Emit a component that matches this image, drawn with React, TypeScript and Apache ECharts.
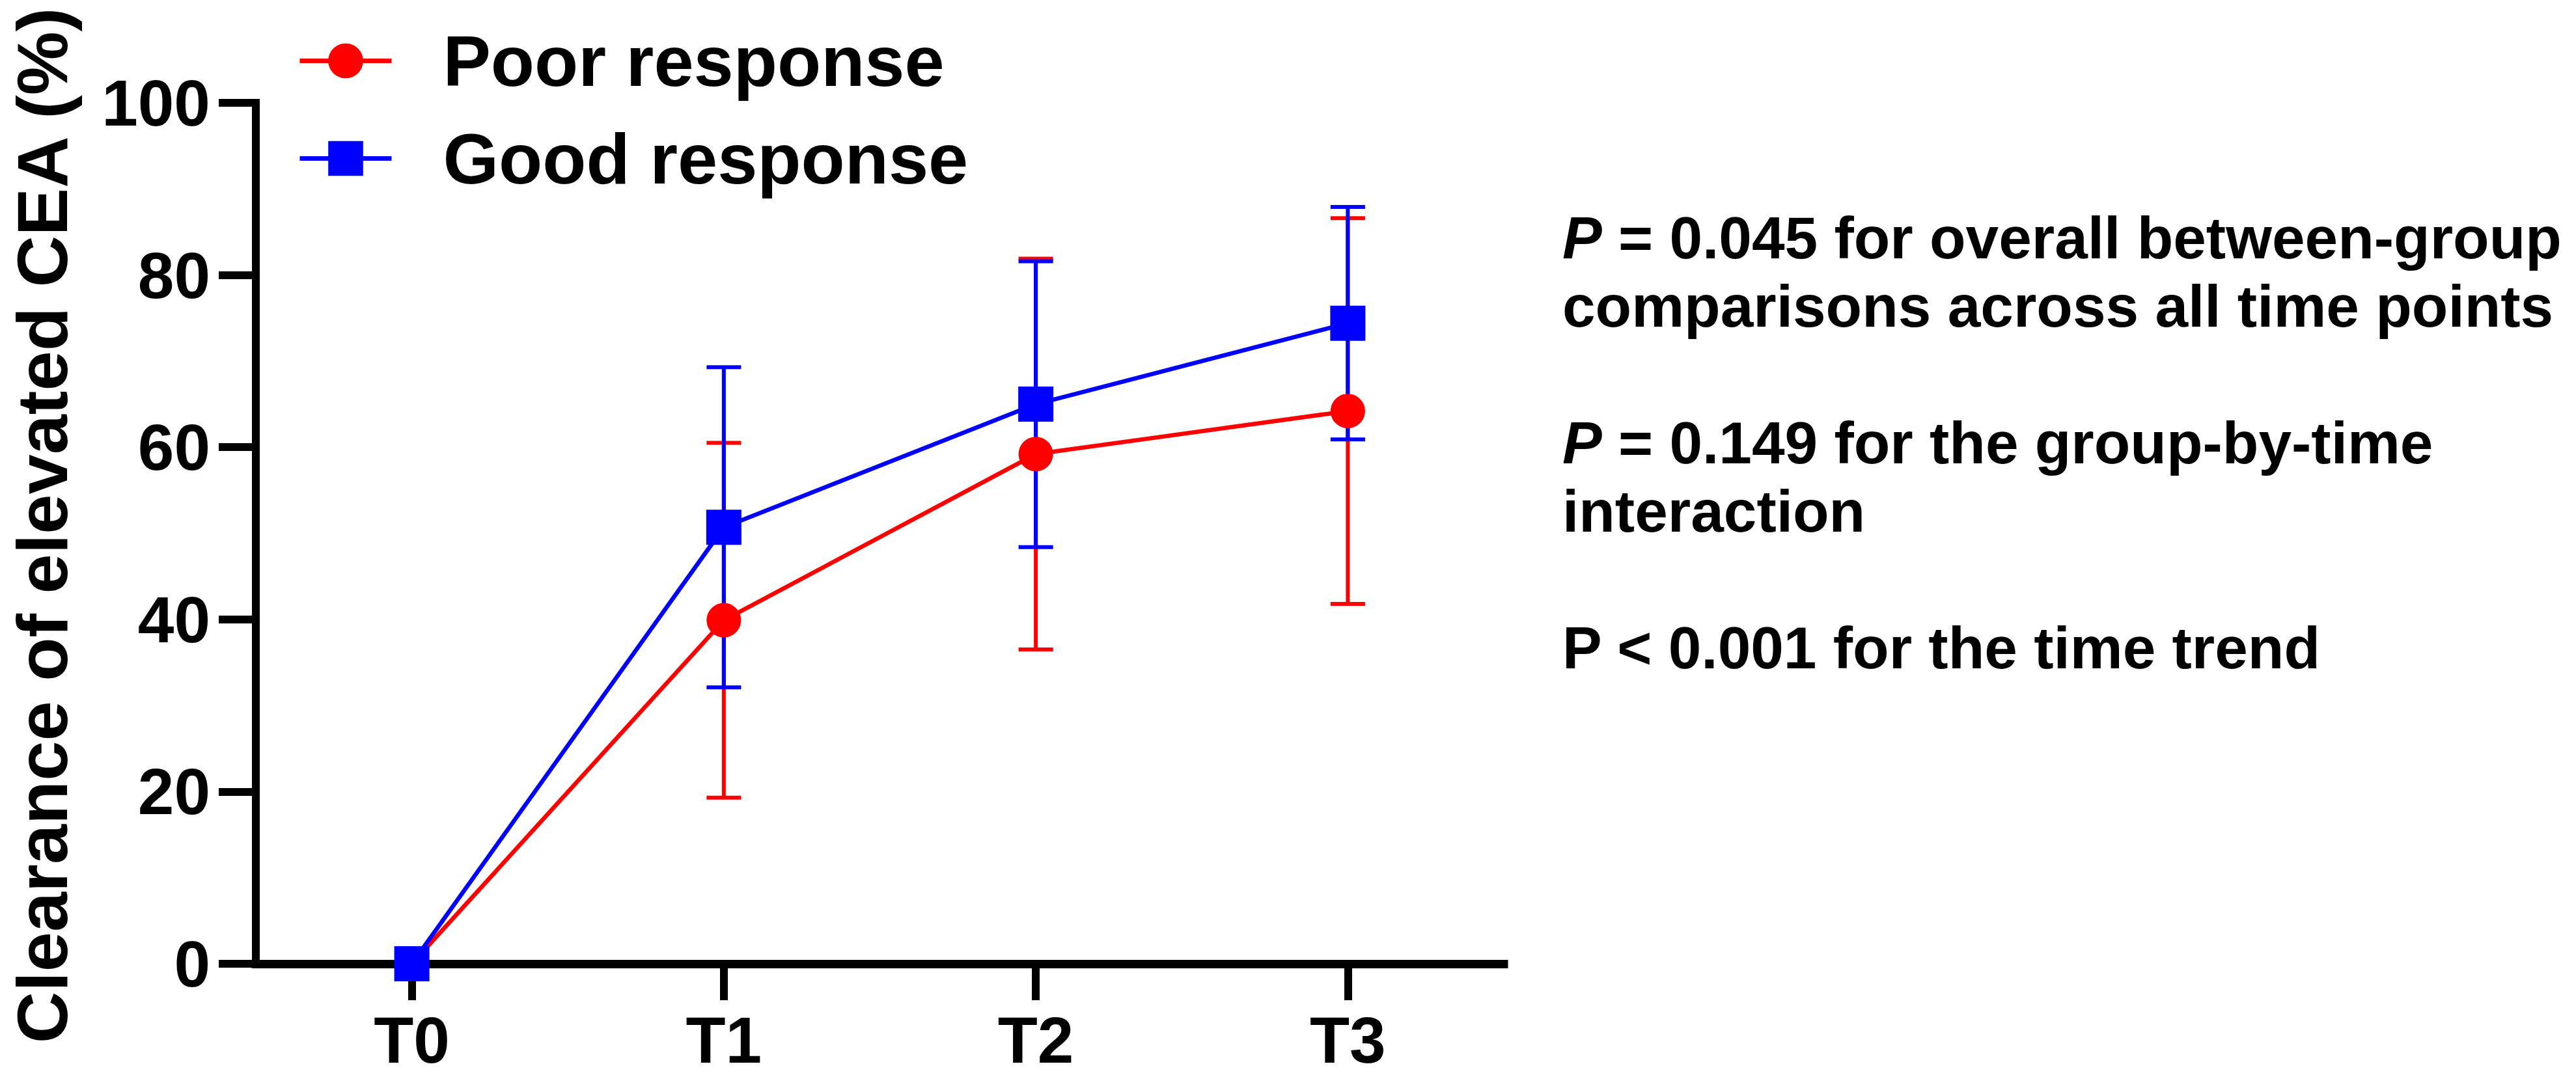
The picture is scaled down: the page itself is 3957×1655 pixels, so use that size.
import React, { useEffect, useRef } from 'react';
import * as echarts from 'echarts';

const W = 3957;
const H = 1655;
const FONT = "'Liberation Sans', Arial, Helvetica, sans-serif";
const RED = '#FF0000';
const BLUE = '#0000FF';

// ---- data ----
const categories = ['T0', 'T1', 'T2', 'T3'];
const poorMean = [0, 39.9, 59.2, 64.2];
const poorSD = [0, 20.6, 22.7, 22.4];
const goodMean = [0, 50.7, 65.0, 74.4];
const goodSD = [0, 18.6, 16.6, 13.5];
const yMin = 0;
const yMax = 100;
const yInterval = 20;
const seriesNames = ['Poor response', 'Good response'];
const yTitle = 'Clearance of elevated CEA (%)';
const notes = [
  ['{i|P} = 0.045 for overall between-group', 'comparisons across all time points'],
  ['{i|P} = 0.149 for the group-by-time', 'interaction'],
  ['P < 0.001 for the time trend'],
];

const errData = (mean: number[], sd: number[]) =>
  mean.map((m, i) => [i, m - sd[i], m + sd[i]]);

const makeErrRender = (color: string) => (params: any, api: any) => {
  const lo = api.value(1);
  const hi = api.value(2);
  if (!(hi - lo > 0)) return null;
  const x = api.value(0);
  const top = api.coord([x, hi]);
  const bot = api.coord([x, lo]);
  const hw = 26.5;
  const st = { stroke: color, lineWidth: 6 };
  return {
    type: 'group',
    children: [
      { type: 'line', shape: { x1: top[0], y1: top[1], x2: bot[0], y2: bot[1] }, style: st },
      { type: 'line', shape: { x1: top[0] - hw, y1: top[1], x2: top[0] + hw, y2: top[1] }, style: st },
      { type: 'line', shape: { x1: bot[0] - hw, y1: bot[1], x2: bot[0] + hw, y2: bot[1] }, style: st },
    ],
  };
};

function buildNotes() {
  const fs = 91;
  const lh = 105;
  const firstBaseline = 397;
  const els: any[] = [];
  let row = 0;
  notes.forEach((para) => {
    para.forEach((line) => {
      const baseline = firstBaseline + row * lh;
      els.push({
        type: 'text',
        x: 2400,
        y: baseline - 0.3465 * fs,
        silent: true,
        style: {
          text: line,
          fontSize: fs,
          fontWeight: 'bold',
          fontFamily: FONT,
          fill: '#000',
          align: 'left',
          verticalAlign: 'middle',
          lineHeight: lh,
          rich: {
            i: {
              fontStyle: 'italic',
              fontWeight: 'bold',
              fontSize: fs,
              fontFamily: FONT,
              fill: '#000',
              lineHeight: lh,
            },
          },
        },
      });
      row += 1;
    });
    row += 1;
  });
  return els;
}

export default function App() {
  const ref = useRef<HTMLDivElement>(null);
  useEffect(() => {
    document.body.style.margin = '0';
    const chart = echarts.init(ref.current as HTMLDivElement, null, {
      renderer: 'svg',
      width: W,
      height: H,
    });
    const axisLabelStyle = {
      fontSize: 100,
      fontWeight: 'bold',
      fontFamily: FONT,
      color: '#000',
    };
    const option: any = {
      animation: false,
      backgroundColor: '#fff',
      color: [RED, BLUE],
      grid: {
        left: 393,
        right: W - 2310,
        top: 158,
        bottom: H - 1481,
        containLabel: false,
        outerBoundsMode: 'none',
      },
      legend: {
        data: seriesNames,
        orient: 'vertical',
        left: 457,
        top: 38.5,
        padding: 0,
        itemWidth: 141,
        itemHeight: 67,
        itemGap: 40,
        selectedMode: false,
        lineStyle: { width: 7 },
        textStyle: {
          fontSize: 110,
          fontWeight: 'bold',
          fontFamily: FONT,
          color: '#000',
          lineHeight: 67,
          padding: [0, 0, 0, 74],
        },
      },
      xAxis: {
        type: 'category',
        data: categories,
        boundaryGap: true,
        axisLine: { show: true, lineStyle: { color: '#000', width: 13, cap: 'square' } },
        axisTick: { show: true, alignWithLabel: true, length: 56, lineStyle: { color: '#000', width: 12 } },
        axisLabel: { ...axisLabelStyle, margin: 79, lineHeight: 76 },
        splitLine: { show: false },
      },
      yAxis: {
        type: 'value',
        min: yMin,
        max: yMax,
        interval: yInterval,
        name: yTitle,
        nameLocation: 'middle',
        nameRotate: 90,
        nameGap: 284,
        nameMoveOverlap: false,
        nameTextStyle: {
          fontSize: 110,
          fontWeight: 'bold',
          fontFamily: FONT,
          color: '#000',
          lineHeight: 90,
          padding: [0, 0, 0, 24],
        },
        axisLine: { show: true, lineStyle: { color: '#000', width: 12, cap: 'square' } },
        axisTick: { show: true, length: 57, lineStyle: { color: '#000', width: 12 } },
        axisLabel: { ...axisLabelStyle, margin: 70 },
        splitLine: { show: false },
      },
      series: [
        {
          name: 'Poor response SD',
          type: 'custom',
          coordinateSystem: 'cartesian2d',
          encode: { x: 0, y: [1, 2] },
          data: errData(poorMean, poorSD),
          renderItem: makeErrRender(RED),
          silent: true,
        },
        {
          name: seriesNames[0],
          type: 'line',
          data: poorMean,
          symbol: 'circle',
          symbolSize: 53,
          lineStyle: { color: RED, width: 6.5 },
          itemStyle: { color: RED, borderWidth: 0 },
          emphasis: { disabled: true },
          silent: true,
        },
        {
          name: 'Good response SD',
          type: 'custom',
          coordinateSystem: 'cartesian2d',
          encode: { x: 0, y: [1, 2] },
          data: errData(goodMean, goodSD),
          renderItem: makeErrRender(BLUE),
          silent: true,
        },
        {
          name: seriesNames[1],
          type: 'line',
          data: goodMean,
          symbol: 'rect',
          symbolSize: 54,
          lineStyle: { color: BLUE, width: 6.5 },
          itemStyle: { color: BLUE, borderWidth: 0 },
          emphasis: { disabled: true },
          silent: true,
        },
      ],
      graphic: buildNotes(),
    };
    chart.setOption(option);
    return () => chart.dispose();
  }, []);
  return (
    <div
      ref={ref}
      style={{ position: 'fixed', left: 0, top: 0, width: W, height: H, background: '#fff' }}
    />
  );
}
